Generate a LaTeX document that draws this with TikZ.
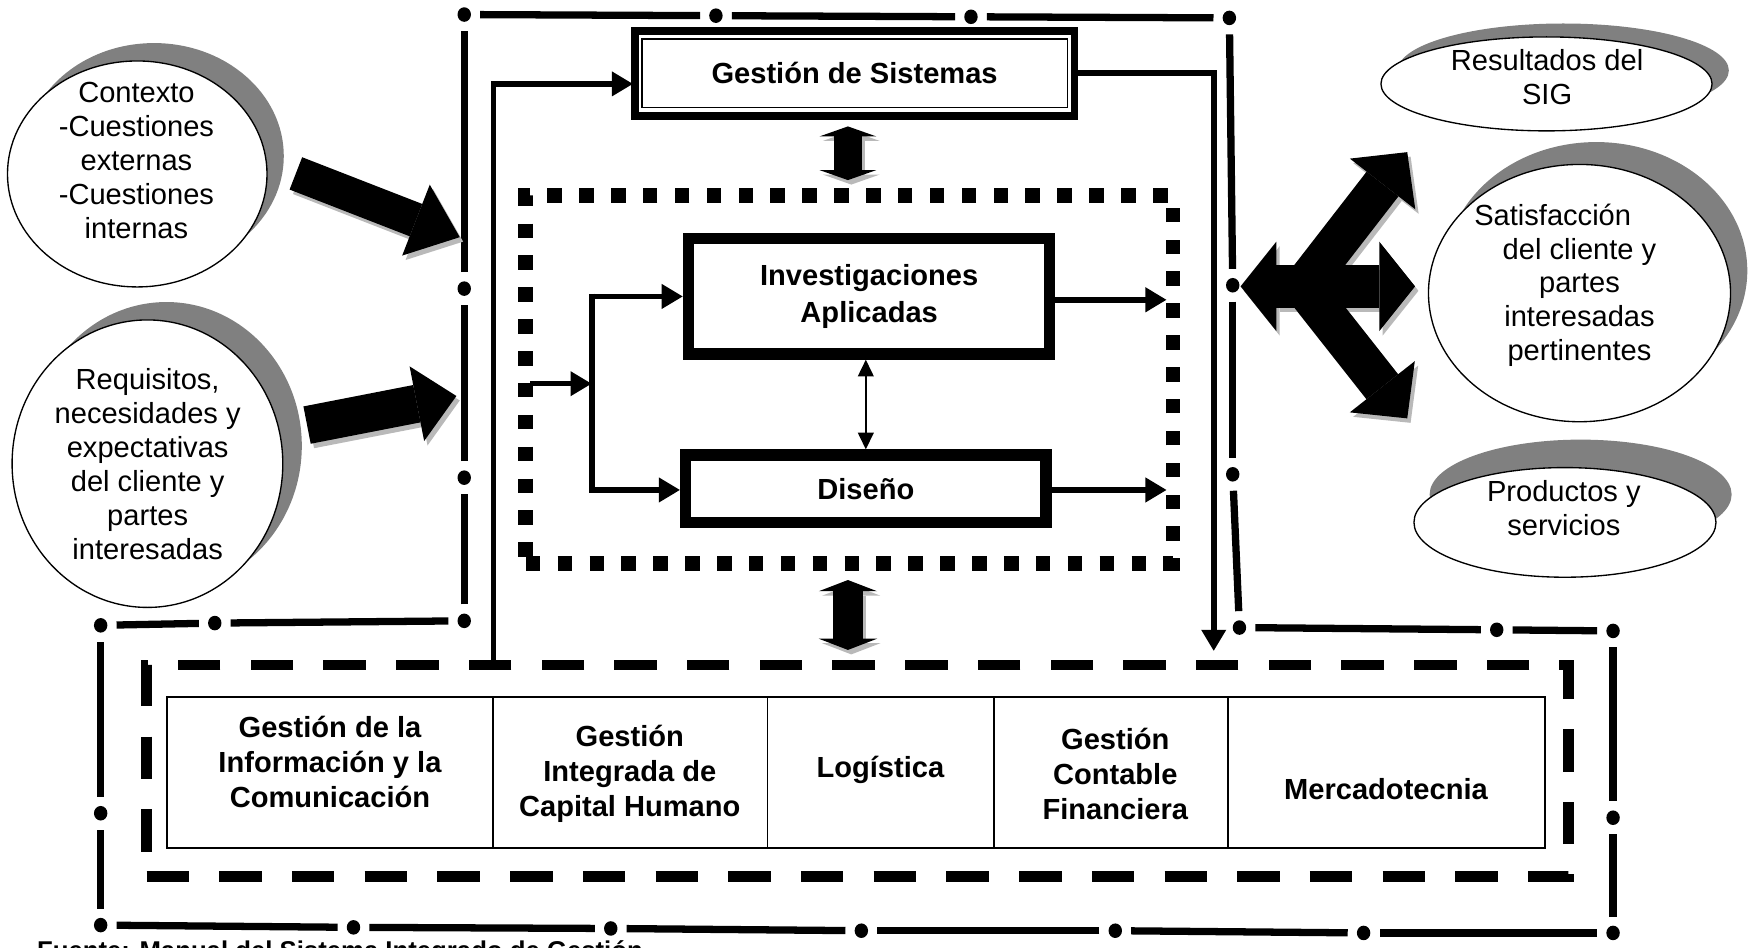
\documentclass[tikz,border=0pt]{standalone}
\usepackage{fontspec}
\setmainfont{Liberation Sans}
\usetikzlibrary{arrows.meta,positioning,shapes.geometric,shadows}

\begin{document}
\begin{tikzpicture}[
    x=1pt, y=-1pt,
    txt/.style={font=\fontsize{26}{30.3}\selectfont, align=center, inner sep=0pt},
    btxt/.style={font=\fontsize{26}{31.5}\selectfont\bfseries, align=center, inner sep=0pt},
    bubble/.style 2 args={ellipse, draw, line width=1.2pt, fill=white, inner sep=0pt,
        drop shadow={shadow xshift=#1, shadow yshift=#2, fill=black!50, opacity=1}},
    framedot/.style={ellipse, fill, inner sep=0pt, minimum width=12pt, minimum height=13pt},
    frameline/.style={line width=6.5pt, shorten <=8pt, shorten >=8pt},
    flow/.style={line width=5pt, -{Triangle[length=19pt, width=21pt]}},
    box/.style={rectangle, draw, line width=10pt, btxt},
    cell/.style={rectangle, draw, line width=1.5pt, outer sep=0pt, minimum height=135pt},
    fat/.style n args={3}{line width=#1, -{Triangle[length=#2, width=#3, line width=0pt]}},
    fatboth/.style n args={3}{line width=#1,
        {Triangle[length=#2, width=#3, line width=0pt]}-{Triangle[length=#2, width=#3, line width=0pt]}},
    shade/.style={gray!55, transform canvas={shift={(3pt,-4pt)}}}
]
    \useasboundingbox (0,0) rectangle (1568,847);

    % Outer dash-dot frame
    \foreach \n/\x/\y in {f1/415/13, f2/640/14, f3/868/15, f4/1099/16, f5/1102/255, f6/1102/424,
        f7/1108/561, f8/1338/563, f9/1442/564, f10/1442/731, f11/1442/834, f12/1219/834,
        f13/997/832, f14/770/832, f15/546/830, f16/316/829, f17/90/827, f18/90/727,
        f19/90/559, f20/192/557, f21/415/555, f22/415/427, f23/415/258}
        \node[framedot] (\n) at (\x,\y) {};
    \foreach \a/\b in {f1/f2, f2/f3, f3/f4, f4/f5, f5/f6, f6/f7, f7/f8, f8/f9, f9/f10, f10/f11,
        f11/f12, f12/f13, f13/f14, f14/f15, f15/f16, f16/f17, f17/f18, f18/f19, f19/f20,
        f20/f21, f21/f22, f22/f23, f23/f1}
        \draw[frameline] (\a) -- (\b);

    % Inputs (left)
    \node[bubble={15pt}{16pt}, minimum width=232pt, minimum height=202pt] (ctx) at (122.7,155.5) {};
    \node[txt] (ctxt) at (122,143.5) {Contexto\\-Cuestiones\\externas\\-Cuestiones\\internas};
    \node[bubble={17pt}{16pt}, minimum width=242pt, minimum height=257pt] (req) at (131.8,414.5) {};
    \node[txt] (reqt) at (132,415) {Requisitos,\\necesidades y\\expectativas\\del cliente y\\partes\\interesadas};

    \coordinate (ctx0) at (264.5,155);
    \coordinate (ctx1) at (411,212);
    \coordinate (req0) at (274.5,380);
    \coordinate (req1) at (408,354);
    \draw[fat={31pt}{42pt}{68pt}, shade] (ctx0) -- (ctx1);
    \draw[fat={31pt}{42pt}{68pt}] (ctx0) -- (ctx1);
    \draw[fat={34pt}{36pt}{68pt}, shade] (req0) -- (req1);
    \draw[fat={34pt}{36pt}{68pt}] (req0) -- (req1);

    % Outputs (right)
    \node[bubble={15pt}{12pt}, minimum width=296pt, minimum height=84pt] (res) at (1382.5,75) {};
    \node[txt] (rest) at (1383,69) {Resultados del\\SIG};
    \node[bubble={15pt}{20pt}, minimum width=270pt, minimum height=230pt] (sat) at (1412,262) {};
    \node[txt] (satt) at (1412,255) {Satisfacción\hspace*{48pt}\mbox{}\\del cliente y\\partes\\interesadas\\pertinentes};
    \node[bubble={14pt}{25pt}, minimum width=270pt, minimum height=98pt] (prod) at (1399,467) {};
    \node[txt] (prodt) at (1398,454) {Productos y\\servicios};

    \coordinate (out0) at (1109,256);
    \coordinate (out1) at (1265,256);
    \coordinate (outj) at (1165,256);
    \coordinate (outn) at (1258,136);
    \coordinate (outs) at (1258,374);
    \draw[fatboth={38pt}{32pt}{80pt}, shade] (out0) -- (out1);
    \draw[fat={36pt}{36pt}{74pt}, shade] (outj) -- (outn);
    \draw[fat={36pt}{36pt}{74pt}, shade] (outj) -- (outs);
    \draw[fatboth={38pt}{32pt}{80pt}] (out0) -- (out1);
    \draw[fat={36pt}{36pt}{74pt}] (outj) -- (outn);
    \draw[fat={36pt}{36pt}{74pt}] (outj) -- (outs);

    % Management
    \node[box, line width=7pt, minimum width=393pt, minimum height=76pt] (gs) at (764,65.5) {Gestión de Sistemas};
    \draw[line width=1.2pt] ([xshift=10pt,yshift=-11pt]gs.north west) rectangle ([xshift=-10pt,yshift=11pt]gs.south east);

    \coordinate (va0) at (758,113);
    \coordinate (va1) at (758,161);
    \draw[fatboth={25pt}{9pt}{51pt}, shade] (va0) -- (va1);
    \draw[fatboth={25pt}{9pt}{51pt}] (va0) -- (va1);

    % Core processes
    \node[rectangle, draw, line width=13pt, dash pattern=on 13pt off 15.5pt,
        minimum width=578.6pt, minimum height=328.5pt] (core) at (759.3,339.25) {};
    \node[box, font=\fontsize{26}{33}\selectfont\bfseries, minimum width=323pt, minimum height=103pt] (ia) at (777,265)
        {Investigaciones\\Aplicadas};
    \node[box, minimum width=322pt, minimum height=60.5pt] (ds) at (774,437) {Diseño};

    \coordinate (cin) at (474,343);
    \coordinate (cbr) at (529,343);
    \coordinate (cbt) at (529,265);
    \coordinate (cbb) at (529,438);
    \coordinate (iaout) at (1043,268);
    \coordinate (dsout) at (1043,438);
    \draw[flow] (cin) -- (cbr);
    \draw[line width=5pt] ([yshift=2.5pt]cbt) -- ([yshift=-2.5pt]cbb);
    \draw[flow] (cbt) -- (ia.west |- cbt);
    \draw[flow] (cbb) -- (ds.west |- cbb);
    \draw[flow] (ia.east |- iaout) -- (iaout);
    \draw[flow] (ds.east |- dsout) -- (dsout);
    \draw[line width=1.8pt, {Triangle[length=15pt, width=14pt]}-{Triangle[length=15pt, width=14pt]}]
        (ds.north |- ia.south) -- (ds.north);

    \coordinate (vb0) at (758,518.5);
    \coordinate (vb1) at (758,581);
    \draw[fatboth={27pt}{10pt}{52pt}, shade] (vb0) -- (vb1);
    \draw[fatboth={27pt}{10pt}{52pt}] (vb0) -- (vb1);

    % Feedback lines
    \coordinate (fbl) at (441,590);
    \coordinate (gsin) at (566,75);
    \coordinate (fbr) at (1085,582);
    \draw[flow] (fbl) |- (gsin);
    \draw[flow] (gs.east) -| (fbr);

    % Support processes
    \node[rectangle, draw, line width=9.5pt, dash pattern=on 38pt off 27pt,
        minimum width=1271pt, minimum height=189.1pt] (units) at (766.5,689.15) {};
    \node[cell, minimum width=291.5pt] (c1) at (295.25,690.5) {};
    \node[cell, minimum width=245pt, right=0pt of c1] (c2) {};
    \node[cell, minimum width=202.5pt, right=0pt of c2] (c3) {};
    \node[cell, minimum width=209.5pt, right=0pt of c3] (c4) {};
    \node[cell, minimum width=283pt, right=0pt of c4] (c5) {};
    \node[btxt] (l1) at (295,681) {Gestión de la\\Información y la\\Comunicación};
    \node[btxt] (l2) at (563,692) {Gestión\\Integrada de\\Capital Humano};
    \node[btxt] (l3) at (787,688) {Logística};
    \node[btxt] (l4) at (997,692) {Gestión\\Contable\\Financiera};
    \node[btxt] (l5) at (1239,705) {Mercadotecnia};

    % Source
    \node[anchor=base west, inner sep=0pt, font=\fontsize{23}{27}\selectfont\bfseries] (src) at (33,857.5)
        {Fuente: Manual del Sistema Integrado de Gestión};
\end{tikzpicture}
\end{document}
